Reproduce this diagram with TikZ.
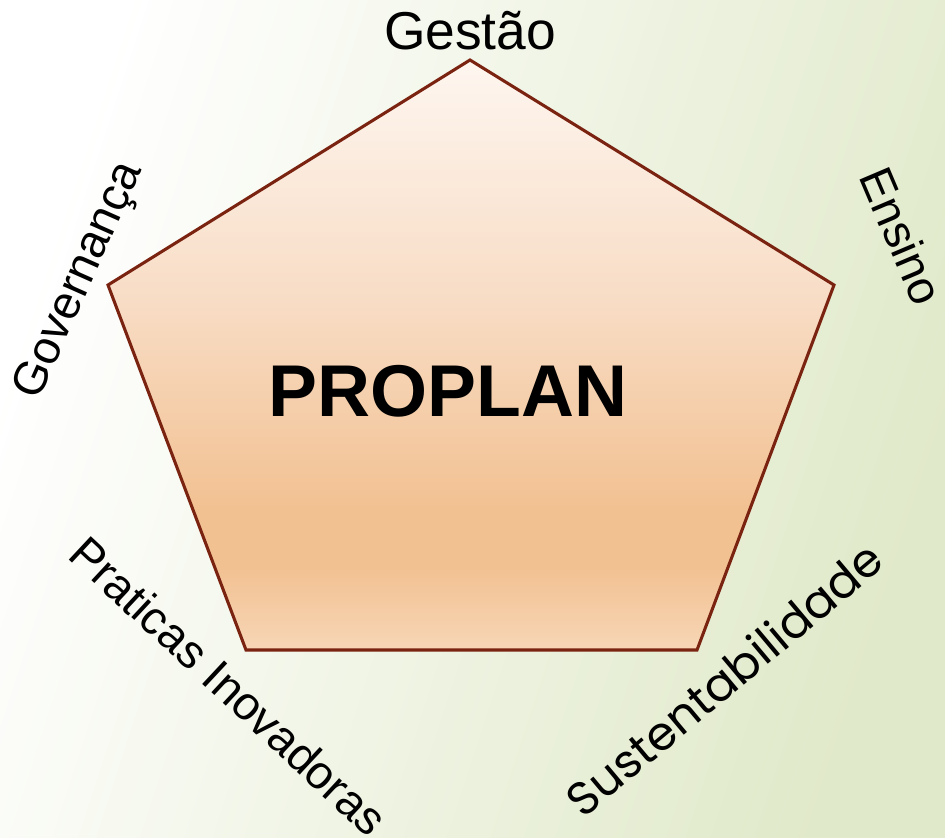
\documentclass[tikz,border=0pt]{standalone}
\usepackage{fontspec}
\setmainfont{Liberation Sans}
\newfontfamily\gothic{Poppins}
\definecolor{pbot}{HTML}{F7D6B6}
\definecolor{pdeep}{HTML}{F2C192}
\definecolor{pmid}{HTML}{F8DDC6}
\definecolor{ptop}{HTML}{FEF6F0}
\definecolor{edge}{HTML}{7B2311}
\definecolor{bgA}{HTML}{FFFFFF}
\definecolor{bgB}{HTML}{E0E9C9}
\pgfdeclareverticalshading{pentfill}{100bp}{color(0bp)=(pbot); color(25bp)=(pbot); color(32bp)=(pdeep); color(37bp)=(pdeep); color(55bp)=(pmid); color(75bp)=(ptop); color(100bp)=(ptop)}
\tikzset{
  lbl/.style={font=\fontsize{35}{38}\selectfont, text=black, inner sep=0pt},
}
\begin{document}
\begin{tikzpicture}[x=0.75pt,y=-0.75pt]
\useasboundingbox (0,0) rectangle (945,838);
\shade[top color=bgA, bottom color=bgB, shading angle=72] (0,0) rectangle (945,838);
\coordinate (vT) at (470,60);
\coordinate (vR) at (834,285);
\coordinate (vBR) at (697,650);
\coordinate (vBL) at (246,650);
\coordinate (vL) at (108,285);
\shade[shading=pentfill] (vT) -- (vR) -- (vBR) -- (vBL) -- (vL) -- cycle;
\draw[edge, line width=2.3pt, line join=miter] (vT) -- (vR) -- (vBR) -- (vBL) -- (vL) -- cycle;
\node[font=\fontsize{55}{60}\selectfont\bfseries, inner sep=0pt, anchor=base] (main) at (448,416) {PROPLAN};
\node[lbl, font=\fontsize{40}{44}\selectfont, anchor=base] (gestao) at (470,50) {Gestão};
\node[lbl, rotate=-67] (ensino) at (902,236) {Ensino};
\node[lbl, rotate=66] (gov) at (80,281) {Governança};
\node[lbl, rotate=-43] (prat) at (229,686) {Praticas Inovadoras};
\node[lbl, font=\fontsize{35}{38}\selectfont\gothic, rotate=40] (sust) at (724,679) {Sustentabilidade};
\end{tikzpicture}
\end{document}
